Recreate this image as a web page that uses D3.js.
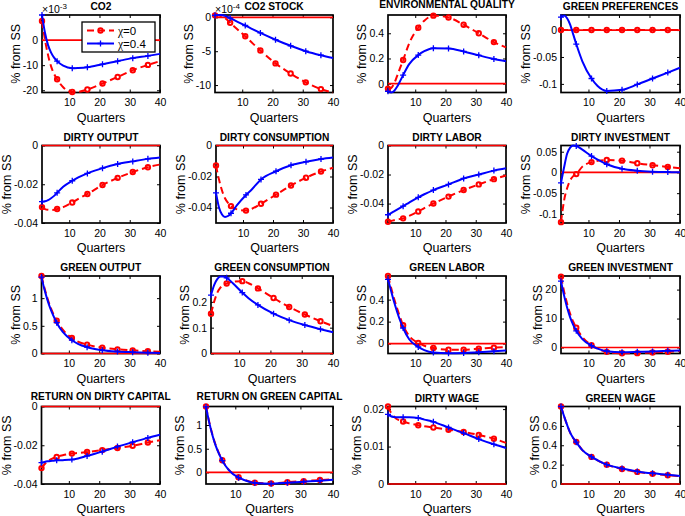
<!DOCTYPE html>
<html><head><meta charset="utf-8">
<script src="https://cdn.jsdelivr.net/npm/d3@7"></script>
<style>
body{margin:0;background:#fff}
svg{display:block}
text{font-family:Arial,"Liberation Sans",Helvetica,sans-serif}
</style>
</head><body>
<svg id="chart" width="685" height="516"></svg>
<script>
// ---------------- DATA ----------------
const quarters = [1,2,3,4,5,6,8,11,13,16,21,26,31,36,40];
const markerQuarters = [1,6,11,16,21,26,31,36];
const xTickValues = [10,20,30,40];
const titles = ["CO2","CO2 STOCK","ENVIRONMENTAL QUALITY","GREEN PREFERENCES",
  "DIRTY OUTPUT","DIRTY CONSUMPTION","DIRTY LABOR","DIRTY INVESTMENT",
  "GREEN OUTPUT","GREEN CONSUMPTION","GREEN LABOR","GREEN INVESTMENT",
  "RETURN ON DIRTY CAPITAL","RETURN ON GREEN CAPITAL","DIRTY WAGE","GREEN WAGE"];
const seriesSymbol = "χ";
const seriesLabels = ["=0","=0.4"];
const xLabel = "Quarters";
const yLabel = "% from SS";

// CO2 in units of 10^-3, CO2 stock in units of 10^-4
const co2_chi0   = [7.6,0,-6,-10.5,-13.5,-15.6,-18.8,-20.7,-20.6,-19.7,-17.3,-14.7,-12,-9.9,-8.4];
const co2_chi04  = [10,2.8,-2,-5,-7,-8.4,-10.2,-11.2,-11.1,-10.8,-9.6,-8.4,-7.2,-6.3,-5.5];
const co2s_chi0  = [0.3,0.3,0.2,0,-0.35,-0.8,-1.6,-2.8,-3.65,-4.9,-6.8,-8.3,-9.6,-10.6,-11.1];
const co2s_chi04 = [0.3,0.35,0.34,0.28,0.1,-0.1,-0.55,-1.2,-1.65,-2.3,-3.3,-4.2,-5.0,-5.6,-6.0];
const envq_chi0  = [-0.04,-0.035,0,0.06,0.125,0.188,0.32,0.444,0.5,0.54,0.525,0.468,0.4,0.33,0.288];
const envq_chi04 = [-0.06,-0.07,-0.058,-0.025,0.02,0.068,0.155,0.227,0.258,0.282,0.28,0.256,0.225,0.196,0.178];
const gpref_chi0  = [0,0,0,0,0,0,0,0,0,0,0,0,0,0,0];
const gpref_chi04 = [0.024,0.027,0.022,0.01,-0.008,-0.026,-0.058,-0.09,-0.104,-0.113,-0.111,-0.101,-0.09,-0.079,-0.07];
const dout_chi0  = [-0.0318,-0.0328,-0.0332,-0.0333,-0.0332,-0.0328,-0.0318,-0.0294,-0.0275,-0.025,-0.0204,-0.0167,-0.0137,-0.0112,-0.0098];
const dout_chi04 = [-0.029,-0.0288,-0.0282,-0.0272,-0.026,-0.0244,-0.0213,-0.0182,-0.0165,-0.0144,-0.0117,-0.0096,-0.0082,-0.0069,-0.0062];
const dcons_chi0  = [-0.0129,-0.022,-0.029,-0.034,-0.037,-0.0391,-0.0412,-0.042,-0.0408,-0.0376,-0.0317,-0.0258,-0.0208,-0.0168,-0.0144];
const dcons_chi04 = [-0.0306,-0.04,-0.0445,-0.0461,-0.0455,-0.0437,-0.0385,-0.0319,-0.0282,-0.0219,-0.0166,-0.0127,-0.0105,-0.0087,-0.0077];
const dlab_chi0  = [-0.0525,-0.052,-0.0515,-0.051,-0.0506,-0.0502,-0.0485,-0.0455,-0.0431,-0.04,-0.0352,-0.0307,-0.0268,-0.0232,-0.0207];
const dlab_chi04 = [-0.0477,-0.0466,-0.0454,-0.0442,-0.043,-0.0418,-0.0393,-0.0357,-0.0336,-0.0307,-0.0268,-0.0227,-0.02,-0.0173,-0.0157];
const dinv_chi0  = [-0.12,-0.068,-0.038,-0.019,-0.009,-0.004,0.014,0.025,0.028,0.03,0.0284,0.022,0.0174,0.0134,0.0103];
const dinv_chi04 = [-0.025,0.012,0.045,0.06,0.065,0.064,0.055,0.0395,0.031,0.0197,0.0087,0.004,0.0018,0.0008,0.0004];
const gout_chi0  = [1.4,1.18,0.99,0.83,0.7,0.593,0.43,0.28,0.215,0.16,0.105,0.075,0.057,0.04,0.03];
const gout_chi04 = [1.38,1.15,0.96,0.8,0.67,0.557,0.39,0.24,0.175,0.114,0.06,0.036,0.024,0.015,0.01];
const gcons_chi0  = [0.154,0.2,0.235,0.255,0.266,0.271,0.278,0.28,0.272,0.252,0.215,0.18,0.151,0.125,0.106];
const gcons_chi04 = [0.226,0.265,0.288,0.298,0.298,0.293,0.272,0.236,0.214,0.188,0.154,0.129,0.11,0.094,0.082];
const glab_chi0  = [0.615,0.51,0.41,0.32,0.24,0.167,0.07,0.006,-0.02,-0.04,-0.055,-0.055,-0.047,-0.037,-0.032];
const glab_chi04 = [0.585,0.48,0.38,0.29,0.21,0.142,0.04,-0.03,-0.06,-0.082,-0.088,-0.086,-0.078,-0.07,-0.063];
const ginv_chi0  = [24.5,19.4,15.2,11.6,8.9,6.8,3.6,0.8,-0.4,-1.5,-2.0,-1.95,-1.7,-1.45,-1.25];
const ginv_chi04 = [22.9,18,13.8,10.4,7.8,5.75,2.9,0.6,-0.4,-1.3,-1.6,-1.5,-1.35,-1.15,-1.0];
const rdk_chi0  = [-0.0318,-0.0298,-0.0283,-0.0273,-0.0266,-0.026,-0.0252,-0.0243,-0.024,-0.0235,-0.0225,-0.0214,-0.0203,-0.0186,-0.0174];
const rdk_chi04 = [-0.029,-0.0286,-0.0283,-0.0281,-0.028,-0.0278,-0.0277,-0.0274,-0.0268,-0.0255,-0.0233,-0.0207,-0.0184,-0.0162,-0.0146];
const rgk_chi0  = [1.39,1.06,0.79,0.57,0.4,0.26,0.06,-0.1,-0.16,-0.215,-0.23,-0.205,-0.182,-0.16,-0.14];
const rgk_chi04 = [1.38,1.05,0.78,0.56,0.39,0.25,0.05,-0.11,-0.165,-0.22,-0.236,-0.215,-0.194,-0.174,-0.153];
const dwage_chi0  = [0.0207,0.019,0.018,0.0173,0.017,0.0167,0.0162,0.0157,0.0154,0.0151,0.0145,0.0139,0.0131,0.0121,0.011];
const dwage_chi04 = [0.0186,0.0181,0.0179,0.0178,0.0178,0.0178,0.0178,0.0176,0.0172,0.0166,0.0151,0.0136,0.012,0.0106,0.0096];
const gwage_chi0  = [0.8,0.7,0.61,0.53,0.475,0.435,0.35,0.28,0.245,0.2,0.155,0.125,0.105,0.09,0.08];
const gwage_chi04 = [0.8,0.7,0.61,0.53,0.475,0.432,0.35,0.28,0.245,0.2,0.16,0.13,0.11,0.096,0.083];

const yLimits = [[-20.9,10],[-11.1,0.35],[-0.07,0.545],[-0.116,0.028],
  [-0.04,0],[-0.05,0],[-0.0534,0],[-0.122,0.065],
  [0,1.4],[0,0.3],[-0.09,0.615],[-2.07,24.7],
  [-0.04,0],[-0.243,1.39],[0,0.0207],[0,0.8]];
const yTickValues = [[-20,-10,0],[-10,-5,0],[0,0.2,0.4],[-0.1,-0.05,0],
  [-0.04,-0.02,0],[-0.04,-0.02,0],[-0.04,-0.02,0],[-0.1,-0.05,0,0.05],
  [0,0.5,1],[0,0.1,0.2],[0,0.2,0.4],[0,10,20],
  [-0.04,-0.02,0],[0,0.5,1],[0,0.01,0.02],[0,0.2,0.4,0.6]];
const exponents = ["-3","-4",null,null,null,null,null,null,null,null,null,null,null,null,null,null];

const chi0Series = [co2_chi0,co2s_chi0,envq_chi0,gpref_chi0,dout_chi0,dcons_chi0,dlab_chi0,dinv_chi0,
  gout_chi0,gcons_chi0,glab_chi0,ginv_chi0,rdk_chi0,rgk_chi0,dwage_chi0,gwage_chi0];
const chi04Series = [co2_chi04,co2s_chi04,envq_chi04,gpref_chi04,dout_chi04,dcons_chi04,dlab_chi04,dinv_chi04,
  gout_chi04,gcons_chi04,glab_chi04,ginv_chi04,rdk_chi04,rgk_chi04,dwage_chi04,gwage_chi04];

// ---------------- LAYOUT ----------------
const colLeft = [42, 215, 388, 561];
const colRight = [160, 333, 506, 680];
const leftOverride = {5: 216, 8: 41.5, 9: 211, 12: 41.5, 13: 206};
const rowTop = [15, 145.5, 276, 406.5];
const H = 77.5;
const RED = "#ff0000", BLUE = "#0000ff";
const tickFont = 10.5, labelFont = 12.5, titleFont = 10.2;

const svg = d3.select("#chart");
const plusPath = "M-3,0H3M0,-3V3";

titles.forEach((title, i) => {
  const r = Math.floor(i / 4), c = i % 4;
  const left = leftOverride[i] !== undefined ? leftOverride[i] : colLeft[c];
  const W = colRight[c] - left;
  const g = svg.append("g").attr("transform", `translate(${left},${rowTop[r]})`);
  const x = d3.scaleLinear().domain([1, 40]).range([0, W]);
  const y = d3.scaleLinear().domain(yLimits[i]).range([H, 0]);

  const fmt = v => String(v);
  const ax = [
    g.append("g").attr("transform", `translate(0,${H})`).call(d3.axisBottom(x).tickValues(xTickValues).tickSize(-3).tickPadding(6.5).tickFormat(fmt)),
    g.append("g").call(d3.axisTop(x).tickValues(xTickValues).tickSize(-3).tickFormat("")),
    g.append("g").call(d3.axisLeft(y).tickValues(yTickValues[i]).tickSize(-3).tickPadding(4).tickFormat(fmt)),
    g.append("g").attr("transform", `translate(${W},0)`).call(d3.axisRight(y).tickValues(yTickValues[i]).tickSize(-3).tickFormat(""))
  ];
  ax.forEach(a => {
    a.select(".domain").remove();
    a.attr("font-family", null).attr("font-size", null);
    a.selectAll("line").attr("stroke", "#000").attr("stroke-width", 1);
    a.selectAll("text").attr("fill", "#000").style("font-size", tickFont + "px");
  });
  g.append("rect").attr("width", W).attr("height", H).attr("fill", "none")
    .attr("stroke", "#000").attr("stroke-width", 1.7);

  let maxW = 0;
  ax[2].selectAll("text").each(function(){ maxW = Math.max(maxW, this.getComputedTextLength()); });

  const tt = g.append("text").attr("x", W/2).attr("y", -5).attr("text-anchor", "middle")
    .style("font-size", titleFont + "px").style("font-weight", "bold").text(title);
  // titles wider than the axes sit a little higher so they clear the top tick label
  if (tt.node().getComputedTextLength() > W + 10) tt.attr("y", -7);

  g.append("text").attr("x", W/2).attr("y", H + 29).attr("text-anchor", "middle")
    .style("font-size", labelFont + "px").text(xLabel);
  g.append("text").attr("transform", `translate(${-4 - maxW - 3},${H/2}) rotate(-90)`)
    .attr("text-anchor", "middle").style("font-size", labelFont + "px").text(yLabel);

  if (exponents[i]) {
    const t = g.append("text").attr("x", 0).attr("y", -2).style("font-size", tickFont + "px");
    t.append("tspan").text("×10");
    t.append("tspan").attr("dy", -4.5).style("font-size", "8px").text(exponents[i]);
  }

  g.append("line").attr("x1", 0).attr("x2", W).attr("y1", y(0)).attr("y2", y(0))
    .attr("stroke", RED).attr("stroke-width", 1.7);

  const line = d3.line().x(d => x(d[0])).y(d => y(d[1])).curve(d3.curveMonotoneX);
  const d0 = quarters.map((q, k) => [q, chi0Series[i][k]]);
  const d4 = quarters.map((q, k) => [q, chi04Series[i][k]]);

  g.append("path").attr("d", line(d0)).attr("fill", "none").attr("stroke", RED)
    .attr("stroke-width", 2).attr("stroke-dasharray", "7,4");
  g.selectAll(".m0").data(d0.filter(d => markerQuarters.includes(d[0]))).enter()
    .append("circle").attr("cx", d => x(d[0])).attr("cy", d => y(d[1])).attr("r", 2.2)
    .attr("fill", "none").attr("stroke", RED).attr("stroke-width", 2);

  g.append("path").attr("d", line(d4)).attr("fill", "none").attr("stroke", BLUE)
    .attr("stroke-width", 2);
  g.selectAll(".m4").data(d4.filter(d => markerQuarters.includes(d[0]))).enter()
    .append("path").attr("transform", d => `translate(${x(d[0])},${y(d[1])})`)
    .attr("d", plusPath).attr("stroke", BLUE).attr("stroke-width", 1.3);

  if (i === 0) {
    const lg = g.append("g").attr("transform", "translate(40,7)");
    lg.append("rect").attr("width", 73).attr("height", 30).attr("fill", "#fff")
      .attr("stroke", "#000").attr("stroke-width", 1.3);
    const rows = [[RED, "7,4", 8.5], [BLUE, null, 21.5]];
    rows.forEach(([col, dash, yy], k) => {
      lg.append("line").attr("x1", 5).attr("x2", 32).attr("y1", yy).attr("y2", yy)
        .attr("stroke", col).attr("stroke-width", 2).attr("stroke-dasharray", dash);
      if (k === 0) lg.append("circle").attr("cx", 18.5).attr("cy", yy).attr("r", 2.2)
        .attr("fill", "none").attr("stroke", RED).attr("stroke-width", 2);
      else lg.append("path").attr("transform", `translate(18.5,${yy})`)
        .attr("d", plusPath).attr("stroke", BLUE).attr("stroke-width", 1.3);
      const t = lg.append("text").attr("x", 36).attr("y", yy + 4).style("font-size", "11.5px");
      t.append("tspan").style("font-family", "'Liberation Serif','DejaVu Serif',serif").text(seriesSymbol);
      t.append("tspan").text(seriesLabels[k]);
    });
  }
});
</script>
</body></html>
